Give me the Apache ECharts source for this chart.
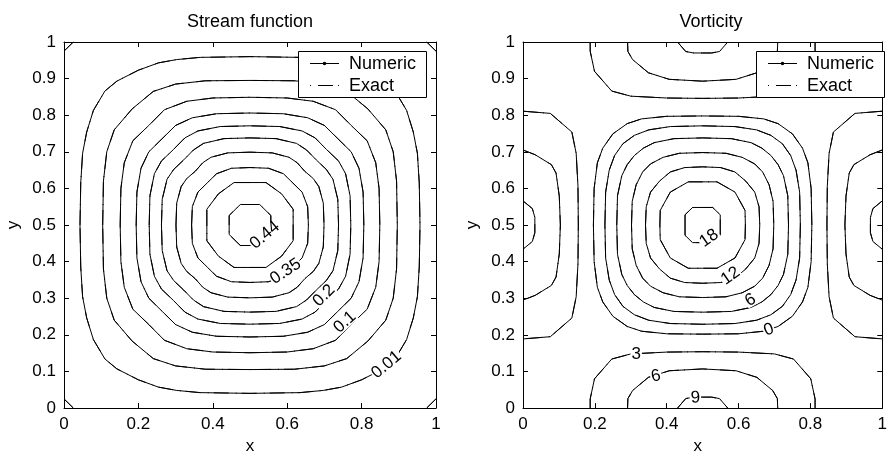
<!DOCTYPE html>
<html lang="en">
<head>
    <meta charset="utf-8" />
    <title>Stream function / Vorticity</title>
    <script src="https://cdn.jsdelivr.net/npm/echarts@6/dist/echarts.min.js"></script>
    <style>
        html, body { margin: 0; padding: 0; background: #fff; }
        #main { width: 890px; height: 460px; }
    </style>
</head>
<body>
    <div id="main"></div>
    <script>
        // ---- stream function: levels and top-left quarter of each contour,
        // read from the picture, going from (x, 0.5) round to (0.5, y)
        var psiLevels = [0.01, 0.05, 0.1, 0.15, 0.2, 0.25, 0.3, 0.35, 0.4, 0.44];
        var psiQuarters = [
            [[0.043, 0.5], [0.045, 0.615], [0.050, 0.696], [0.061, 0.754], [0.079, 0.813], [0.110, 0.866], [0.142, 0.893], [0.200, 0.923], [0.254, 0.943], [0.303, 0.952], [0.366, 0.958], [0.5, 0.960]],
            [[0.104, 0.5], [0.106, 0.62], [0.115, 0.70], [0.135, 0.76], [0.183, 0.817], [0.24, 0.865], [0.30, 0.885], [0.38, 0.894], [0.5, 0.895]],
            [[0.151, 0.5], [0.153, 0.60], [0.162, 0.67], [0.185, 0.73], [0.228, 0.772], [0.27, 0.815], [0.33, 0.838], [0.40, 0.847], [0.5, 0.849]],
            [[0.194, 0.5], [0.196, 0.59], [0.207, 0.655], [0.228, 0.70], [0.264, 0.736], [0.30, 0.772], [0.345, 0.793], [0.41, 0.804], [0.5, 0.806]],
            [[0.229, 0.5], [0.231, 0.58], [0.243, 0.64], [0.262, 0.675], [0.294, 0.706], [0.325, 0.738], [0.36, 0.757], [0.42, 0.769], [0.5, 0.771]],
            [[0.262, 0.5], [0.264, 0.57], [0.277, 0.625], [0.295, 0.652], [0.322, 0.678], [0.348, 0.705], [0.375, 0.723], [0.43, 0.736], [0.5, 0.738]],
            [[0.301, 0.5], [0.303, 0.56], [0.315, 0.605], [0.33, 0.627], [0.353, 0.647], [0.373, 0.67], [0.395, 0.685], [0.44, 0.697], [0.5, 0.699]],
            [[0.343, 0.5], [0.345, 0.55], [0.36, 0.59], [0.385, 0.615], [0.41, 0.64], [0.45, 0.655], [0.5, 0.657]],
            [[0.384, 0.5], [0.384, 0.543], [0.415, 0.585], [0.457, 0.616], [0.5, 0.616]],
            [[0.444, 0.5], [0.444, 0.526], [0.474, 0.556], [0.5, 0.556]]
        ];
        // tiny contour cutting the top-left corner (same in every corner)
        var psiCorner = [[0, 0.975], [0.025, 1]];
        // [text, x, y, rotation]
        var psiLabels = [
            ['0.44', 0.540, 0.472, 40],
            ['0.35', 0.596, 0.373, 34],
            ['0.2', 0.699, 0.307, 45],
            ['0.1', 0.755, 0.235, 42],
            ['0.01', 0.867, 0.118, 40]
        ];

        // ---- vorticity: central contours (top-left quarter)
        var omegaLevels = [0, 3, 6, 9, 12, 15, 18];
        var omegaQuarters = [
            [[0.196, 0.5], [0.198, 0.60], [0.207, 0.67], [0.222, 0.71], [0.250, 0.749], [0.29, 0.777], [0.33, 0.79], [0.40, 0.797], [0.5, 0.798]],
            [[0.228, 0.5], [0.230, 0.59], [0.240, 0.65], [0.255, 0.69], [0.278, 0.722], [0.31, 0.745], [0.35, 0.76], [0.41, 0.769], [0.5, 0.771]],
            [[0.261, 0.5], [0.263, 0.58], [0.275, 0.635], [0.29, 0.665], [0.31, 0.69], [0.335, 0.71], [0.365, 0.725], [0.42, 0.736], [0.5, 0.738]],
            [[0.302, 0.5], [0.304, 0.565], [0.315, 0.61], [0.333, 0.645], [0.355, 0.667], [0.39, 0.685], [0.435, 0.696], [0.5, 0.698]],
            [[0.341, 0.5], [0.343, 0.55], [0.355, 0.59], [0.38, 0.62], [0.41, 0.645], [0.45, 0.657], [0.5, 0.659]],
            [[0.381, 0.5], [0.382, 0.54], [0.41, 0.59], [0.46, 0.618], [0.5, 0.618]],
            [[0.451, 0.5], [0.451, 0.528], [0.472, 0.548], [0.5, 0.548]]
        ];
        // edge cells: levels -3, -6, -9
        var edgeLevels = [-3, -6, -9];
        // left edge cell, upper half, from (0, y) to (x, 0.5)
        var omegaSideHalves = [
            [[0, 0.811], [0.076, 0.805], [0.136, 0.754], [0.148, 0.696], [0.153, 0.606], [0.154, 0.5]],
            [[0, 0.705], [0.034, 0.692], [0.079, 0.665], [0.092, 0.642], [0.101, 0.579], [0.104, 0.5]],
            [[0, 0.566], [0.026, 0.545], [0.033, 0.521], [0.033, 0.5]]
        ];
        // top edge cell, left half, from (x, 1) to (0.5, y)
        var omegaTopHalves = [
            [[0.187, 1], [0.187, 0.975], [0.199, 0.920], [0.247, 0.866], [0.30, 0.852], [0.40, 0.847], [0.5, 0.846]],
            [[0.291, 1], [0.292, 0.974], [0.305, 0.952], [0.349, 0.916], [0.407, 0.898], [0.5, 0.893]],
            [[0.430, 1], [0.453, 0.974], [0.475, 0.970], [0.5, 0.970]]
        ];
        var omegaLabels = [
            ['18', 0.518, 0.464, 35],
            ['12', 0.578, 0.361, 35],
            ['6', 0.633, 0.295, 30],
            ['0', 0.684, 0.214, 20],
            ['3', 0.315, 0.147, 0],
            ['6', 0.370, 0.087, 12],
            ['9', 0.480, 0.028, 3]
        ];

        var xTickStep = 0.2;
        var yTickStep = 0.1;
        var FONT = 'Liberation Sans';

        // the contours are symmetric about x = 0.5 and y = 0.5, so the
        // quarter read off the picture is reflected to close the loop
        function fullLoop(q) {
            var pts = q.slice();
            var i;
            for (i = q.length - 2; i >= 0; i--) pts.push([1 - q[i][0], q[i][1]]);
            for (i = 1; i < q.length; i++) pts.push([1 - q[i][0], 1 - q[i][1]]);
            for (i = q.length - 2; i >= 0; i--) pts.push([q[i][0], 1 - q[i][1]]);
            return pts;
        }
        function sideCell(h, right) {
            var pts = h.slice();
            for (var i = h.length - 2; i >= 0; i--) pts.push([h[i][0], 1 - h[i][1]]);
            if (right) pts = pts.map(function (p) { return [1 - p[0], p[1]]; });
            return pts;
        }
        function topCell(h, bottom) {
            var pts = h.slice();
            for (var i = h.length - 2; i >= 0; i--) pts.push([1 - h[i][0], h[i][1]]);
            if (bottom) pts = pts.map(function (p) { return [p[0], 1 - p[1]]; });
            return pts;
        }

        function contour(pts, gi) {
            // numeric (solid) and exact (dash-dot) lie on top of each other
            return [
                {
                    name: 'Numeric', type: 'line', xAxisIndex: gi * 2, yAxisIndex: gi * 2,
                    data: pts, symbol: 'none', silent: true, animation: false, z: 2,
                    lineStyle: { color: '#000', width: 1 }
                },
                {
                    name: 'Exact', type: 'line', xAxisIndex: gi * 2, yAxisIndex: gi * 2,
                    data: pts, symbol: 'none', silent: true, animation: false, z: 3,
                    lineStyle: { color: '#000', width: 1, type: [15, 5, 1, 7] }
                }
            ];
        }

        function labelSeries(list, gi) {
            return {
                type: 'scatter', xAxisIndex: gi * 2, yAxisIndex: gi * 2,
                symbolSize: 1, itemStyle: { color: 'rgba(0,0,0,0)', opacity: 1 },
                silent: true, animation: false, z: 6,
                data: list.map(function (l) {
                    return {
                        value: [l[1], l[2]],
                        label: {
                            show: true, position: 'inside', formatter: l[0], rotate: l[3],
                            color: '#000', opacity: 1, fontSize: 17, fontFamily: FONT,
                            backgroundColor: '#fff', padding: [0, 1], lineHeight: 13
                        }
                    };
                })
            };
        }

        var series = [];
        psiQuarters.forEach(function (q) { series = series.concat(contour(fullLoop(q), 0)); });
        [[0, 0], [1, 0], [0, 1], [1, 1]].forEach(function (m) {
            var seg = psiCorner.map(function (p) {
                return [m[0] ? 1 - p[0] : p[0], m[1] ? 1 - p[1] : p[1]];
            });
            series = series.concat(contour(seg, 0));
        });
        series.push(labelSeries(psiLabels, 0));

        omegaQuarters.forEach(function (q) { series = series.concat(contour(fullLoop(q), 1)); });
        omegaSideHalves.forEach(function (h) {
            series = series.concat(contour(sideCell(h, false), 1));
            series = series.concat(contour(sideCell(h, true), 1));
        });
        omegaTopHalves.forEach(function (h) {
            series = series.concat(contour(topCell(h, false), 1));
            series = series.concat(contour(topCell(h, true), 1));
        });
        series.push(labelSeries(omegaLabels, 1));

        var axisLine = { show: true, onZero: false, lineStyle: { color: '#000', width: 1 } };
        var axisTick = { show: true, inside: true, length: 5, lineStyle: { color: '#000' } };
        var labelStyle = { color: '#000', fontSize: 17, fontFamily: FONT };

        function xAxes(gi, gap) {
            return [
                {
                    gridIndex: gi, type: 'value', min: 0, max: 1, interval: xTickStep, position: 'bottom',
                    name: 'x', nameLocation: 'middle', nameGap: gap,
                    nameTextStyle: { color: '#000', fontSize: 17, fontFamily: FONT, padding: gi ? [0, 10, 0, 0] : 0 },
                    axisLine: axisLine, axisTick: axisTick, splitLine: { show: false },
                    axisLabel: Object.assign({ margin: 8 }, labelStyle)
                },
                {
                    gridIndex: gi, type: 'value', min: 0, max: 1, interval: xTickStep, position: 'top',
                    axisLine: axisLine, axisTick: axisTick, splitLine: { show: false },
                    axisLabel: { show: false }
                }
            ];
        }
        function yAxes(gi) {
            return [
                {
                    gridIndex: gi, type: 'value', min: 0, max: 1, interval: yTickStep, position: 'left',
                    name: 'y', nameLocation: 'middle', nameGap: 42, nameRotate: 90,
                    nameTextStyle: { color: '#000', fontSize: 17, fontFamily: FONT },
                    axisLine: axisLine, axisTick: axisTick, splitLine: { show: false },
                    axisLabel: Object.assign({ margin: 8 }, labelStyle)
                },
                {
                    gridIndex: gi, type: 'value', min: 0, max: 1, interval: yTickStep, position: 'right',
                    axisLine: axisLine, axisTick: axisTick, splitLine: { show: false },
                    axisLabel: { show: false }
                }
            ];
        }

        // legend box drawn by hand (line with dot / dash-dot sample)
        function legendBox(x0) {
            var t = { font: '18px ' + FONT, fill: '#000', verticalAlign: 'middle' };
            return [
                { type: 'rect', shape: { x: x0 + 0.5, y: 51.5, width: 128, height: 46 }, style: { fill: '#fff', stroke: '#000', lineWidth: 1 }, z: 10 },
                { type: 'line', shape: { x1: x0 + 12, y1: 63.5, x2: x0 + 41, y2: 63.5 }, style: { stroke: '#000', lineWidth: 1 }, z: 11 },
                { type: 'circle', shape: { cx: x0 + 26.5, cy: 63.5, r: 1.8 }, style: { fill: '#000' }, z: 11 },
                { type: 'text', x: x0 + 51, y: 64, style: Object.assign({ text: 'Numeric' }, t), z: 11 },
                { type: 'line', shape: { x1: x0 + 12, y1: 85.5, x2: x0 + 41, y2: 85.5 }, style: { stroke: '#000', lineWidth: 1, lineDash: [1, 7, 15, 5] }, z: 11 },
                { type: 'text', x: x0 + 51, y: 86, style: Object.assign({ text: 'Exact' }, t), z: 11 }
            ];
        }

        var myChart = echarts.init(document.getElementById('main'));
        var titleStyle = { color: '#000', fontSize: 18, fontWeight: 'normal', fontFamily: FONT };
        var option = {
            backgroundColor: '#fff',
            animation: false,
            title: [
                { text: 'Stream function', left: 250, top: 13, textAlign: 'center', padding: 0, textStyle: titleStyle },
                { text: 'Vorticity', left: 711, top: 13, textAlign: 'center', padding: 0, textStyle: titleStyle }
            ],
            grid: [
                { left: 64, top: 42, width: 372, height: 371 },
                { left: 523, top: 42, width: 376, height: 371 }
            ],
            xAxis: xAxes(0, 30).concat(xAxes(1, 23)),
            yAxis: yAxes(0).concat(yAxes(1)),
            series: series,
            graphic: legendBox(298).concat(legendBox(756))
        };
        myChart.setOption(option);
    </script>
</body>
</html>
